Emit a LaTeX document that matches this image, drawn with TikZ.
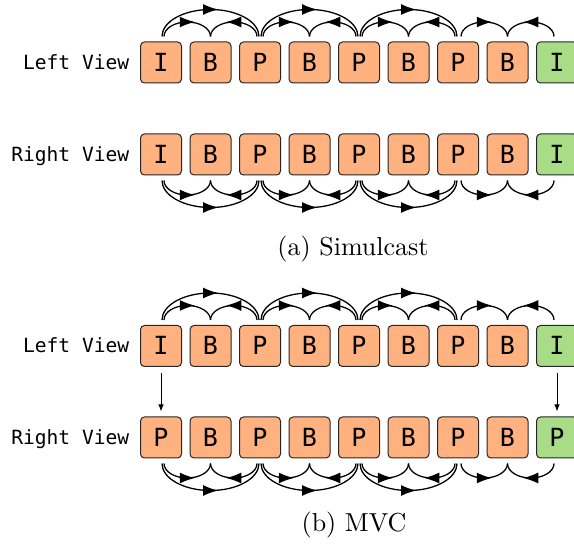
\documentclass[tikz,border=0pt]{standalone}
\usepackage{fontspec}
\usetikzlibrary{arrows.meta,decorations.markings}
\newfontfamily\dvmono{DejaVu Sans Mono}
\definecolor{boxorange}{RGB}{255,178,128}
\definecolor{boxgreen}{RGB}{168,220,134}
\tikzset{
  frame/.style={draw=black!85, line width=1pt, rounded corners=4pt,
    minimum width=41pt, minimum height=41pt, inner sep=0pt,
    text height=18pt, text depth=0pt,
    font=\dvmono\fontsize{25}{25}\selectfont},
  obox/.style={frame, fill=boxorange},
  gbox/.style={frame, fill=boxgreen},
  viewlabel/.style={anchor=base east, inner sep=0pt,
    font=\dvmono\fontsize{19.6}{19.6}\selectfont},
  midtip/.tip={Latex[length=15pt,width=11pt]},
  arcline/.style={draw=black, line width=1.3pt,
    decoration={markings, mark=at position 0.5 with {\pgftransformxshift{7.5pt}\arrow{midtip}}},
    postaction=decorate},
  vline/.style={draw=black, line width=1pt, -{Latex[length=7pt,width=5.5pt]}},
  subcap/.style={anchor=base, inner sep=0pt, scale=2.6}
}
\begin{document}
\begin{tikzpicture}[x=1pt,y=-1pt]
\useasboundingbox (0,0) rectangle (574,548);
% rows of frames
\foreach \r/\yy/\first/\last in {al/62.5/I/I, ar/154.5/I/I, bl/346/I/I, br/437.5/P/P} {
  \foreach \i/\t in {0/\first,1/B,2/P,3/B,4/P,5/B,6/P,7/B} {
    \node[obox] (\r\i) at ({161+49.5*\i},\yy) {\t};
  }
  \node[gbox] (\r8) at ({161+49.5*8},\yy) {\last};
}
% labels
\node[viewlabel] (lal) at (129.5,69.5) {Left View};
\node[viewlabel] (lar) at (129.5,161.5) {Right View};
\node[viewlabel] (lbl) at (129.5,353) {Left View};
\node[viewlabel] (lbr) at (129.5,444.5) {Right View};
% arcs above
\foreach \r in {al,bl} {
  \foreach \k [evaluate=\k as \n using int(\k+2)] in {0,2,4,6} {
    \draw[arcline] ([xshift=3pt,yshift=5pt]\r\k.north) arc[start angle=180, end angle=360, x radius=23.25, y radius=14.5];
    \draw[arcline] ([xshift=-3pt,yshift=5pt]\r\n.north) arc[start angle=0, end angle=-180, x radius=23.25, y radius=14.5];
  }
  \foreach \k in {0,2,4} {
    \draw[arcline] ([xshift=1pt,yshift=5pt]\r\k.north) arc[start angle=180, end angle=360, x radius=48.5, y radius=27];
  }
}
% arcs below
\foreach \r in {ar,br} {
  \foreach \k [evaluate=\k as \n using int(\k+2)] in {0,2,4,6} {
    \draw[arcline] ([xshift=3pt,yshift=-5pt]\r\k.south) arc[start angle=180, end angle=0, x radius=23.25, y radius=14.5];
    \draw[arcline] ([xshift=-3pt,yshift=-5pt]\r\n.south) arc[start angle=0, end angle=180, x radius=23.25, y radius=14.5];
  }
  \foreach \k in {0,2,4} {
    \draw[arcline] ([xshift=1pt,yshift=-5pt]\r\k.south) arc[start angle=180, end angle=0, x radius=48.5, y radius=27];
  }
}
% inter-view prediction
\draw[vline] ([yshift=-6.5pt]bl0.south) -- ([yshift=5pt]br0.north);
\draw[vline] ([yshift=-6.5pt]bl8.south) -- ([yshift=5pt]br8.north);
% captions
\node[subcap] (capa) at (353,256) {(a)\ Simulcast};
\node[subcap] (capb) at (354,532) {(b)\ MVC};
\end{tikzpicture}
\end{document}
